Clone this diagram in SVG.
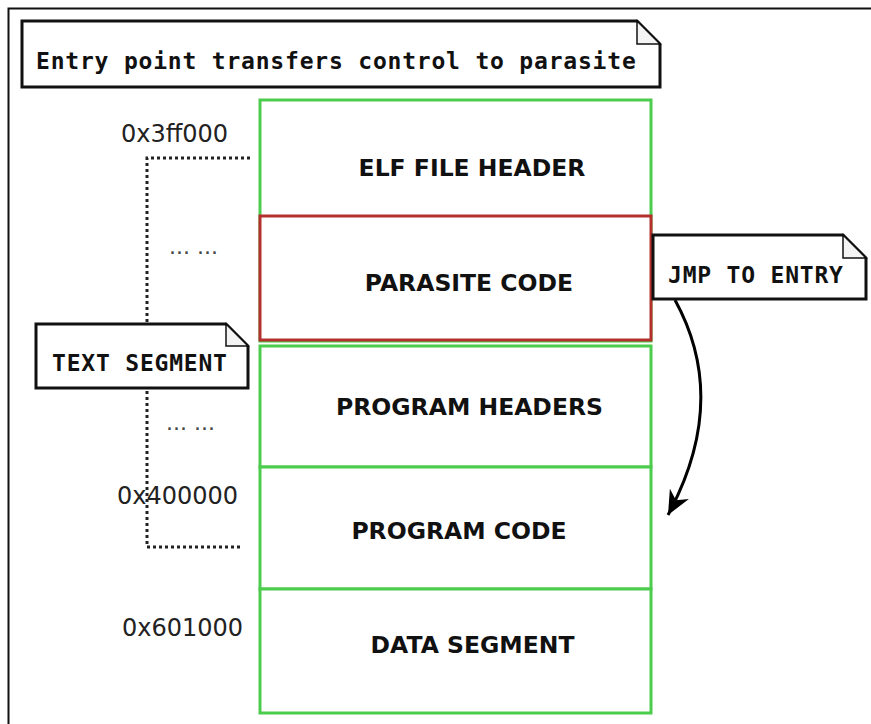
<svg xmlns="http://www.w3.org/2000/svg" width="871" height="724" viewBox="0 0 871 724">
<defs>
<style>
.seg{fill:#fff;stroke:#4ccc4c;stroke-width:3}
.par{fill:#fff;stroke:#b3302c;stroke-width:3}
.lbl{font-family:"DejaVu Sans",sans-serif;font-weight:bold;font-size:23.5px;fill:#111;text-anchor:middle}
.hex{font-family:"DejaVu Sans",sans-serif;font-size:24px;fill:#222;text-anchor:end}
.dots{font-family:"DejaVu Sans",sans-serif;font-size:22px;fill:#444}
.note{fill:#fff;stroke:#111;stroke-width:3;stroke-linejoin:miter}
.fold{fill:#f4f4f4;stroke:#111;stroke-width:1.5}
.mono{font-family:"DejaVu Sans Mono",monospace;font-weight:bold;font-size:23px;letter-spacing:0.8px;fill:#111}
.dotted{fill:none;stroke:#222;stroke-width:3;stroke-dasharray:3 3}
</style>
<marker id="ah" viewBox="0 0 10 10" refX="10" refY="5" markerWidth="24" markerHeight="24" orient="auto" markerUnits="userSpaceOnUse">
<path d="M0,0.5 L10,5 L0,9.5 L3,5 z" fill="#000"/>
</marker>
</defs>
<rect x="8.5" y="8.5" width="880" height="730" fill="#fff" stroke="#111" stroke-width="2"/>

<g id="connectors">
<path class="dotted" d="M250,158 H147 V547 H243"/>
<path d="M675,300 Q730,400 668,515" fill="none" stroke="#000" stroke-width="3" marker-end="url(#ah)"/>
</g>

<g id="elf-header">
<rect class="seg" x="260" y="100" width="391" height="241"/>
<text class="lbl" x="472" y="176">ELF FILE HEADER</text>
</g>
<g id="parasite-code">
<rect class="par" x="260" y="216" width="391" height="124"/>
<text class="lbl" x="469" y="291">PARASITE CODE</text>
</g>
<g id="program-headers">
<rect class="seg" x="260" y="346" width="391" height="121"/>
<text class="lbl" x="469.5" y="415">PROGRAM HEADERS</text>
</g>
<g id="program-code">
<rect class="seg" x="260" y="467" width="391" height="122"/>
<text class="lbl" x="459" y="539">PROGRAM CODE</text>
</g>
<g id="data-segment">
<rect class="seg" x="260" y="589" width="391" height="124"/>
<text class="lbl" x="472.5" y="653">DATA SEGMENT</text>
</g>

<g id="addresses">
<text class="hex" x="228" y="142">0x3ff000</text>
<text class="hex" x="238" y="504">0x400000</text>
<text class="hex" x="243" y="636">0x601000</text>
<text class="dots" x="169" y="254">... ...</text>
<text class="dots" x="166" y="430">... ...</text>
</g>

<g id="title-note">
<path class="note" d="M22,21 H637 L660,44 V87 H22 Z"/>
<path class="fold" d="M637,21 V44 H660 Z"/>
<text class="mono" x="36" y="69">Entry point transfers control to parasite</text>
</g>

<g id="text-segment-note">
<path class="note" d="M36,324 H226 L248,346 V388 H36 Z"/>
<path class="fold" d="M226,324 V346 H248 Z"/>
<text class="mono" x="52" y="371">TEXT SEGMENT</text>
</g>

<g id="jmp-note">
<path class="note" d="M653,235 H843 L866,258 V299 H653 Z"/>
<path class="fold" d="M843,235 V258 H866 Z"/>
<text class="mono" x="668" y="283">JMP TO ENTRY</text>
</g>
</svg>
